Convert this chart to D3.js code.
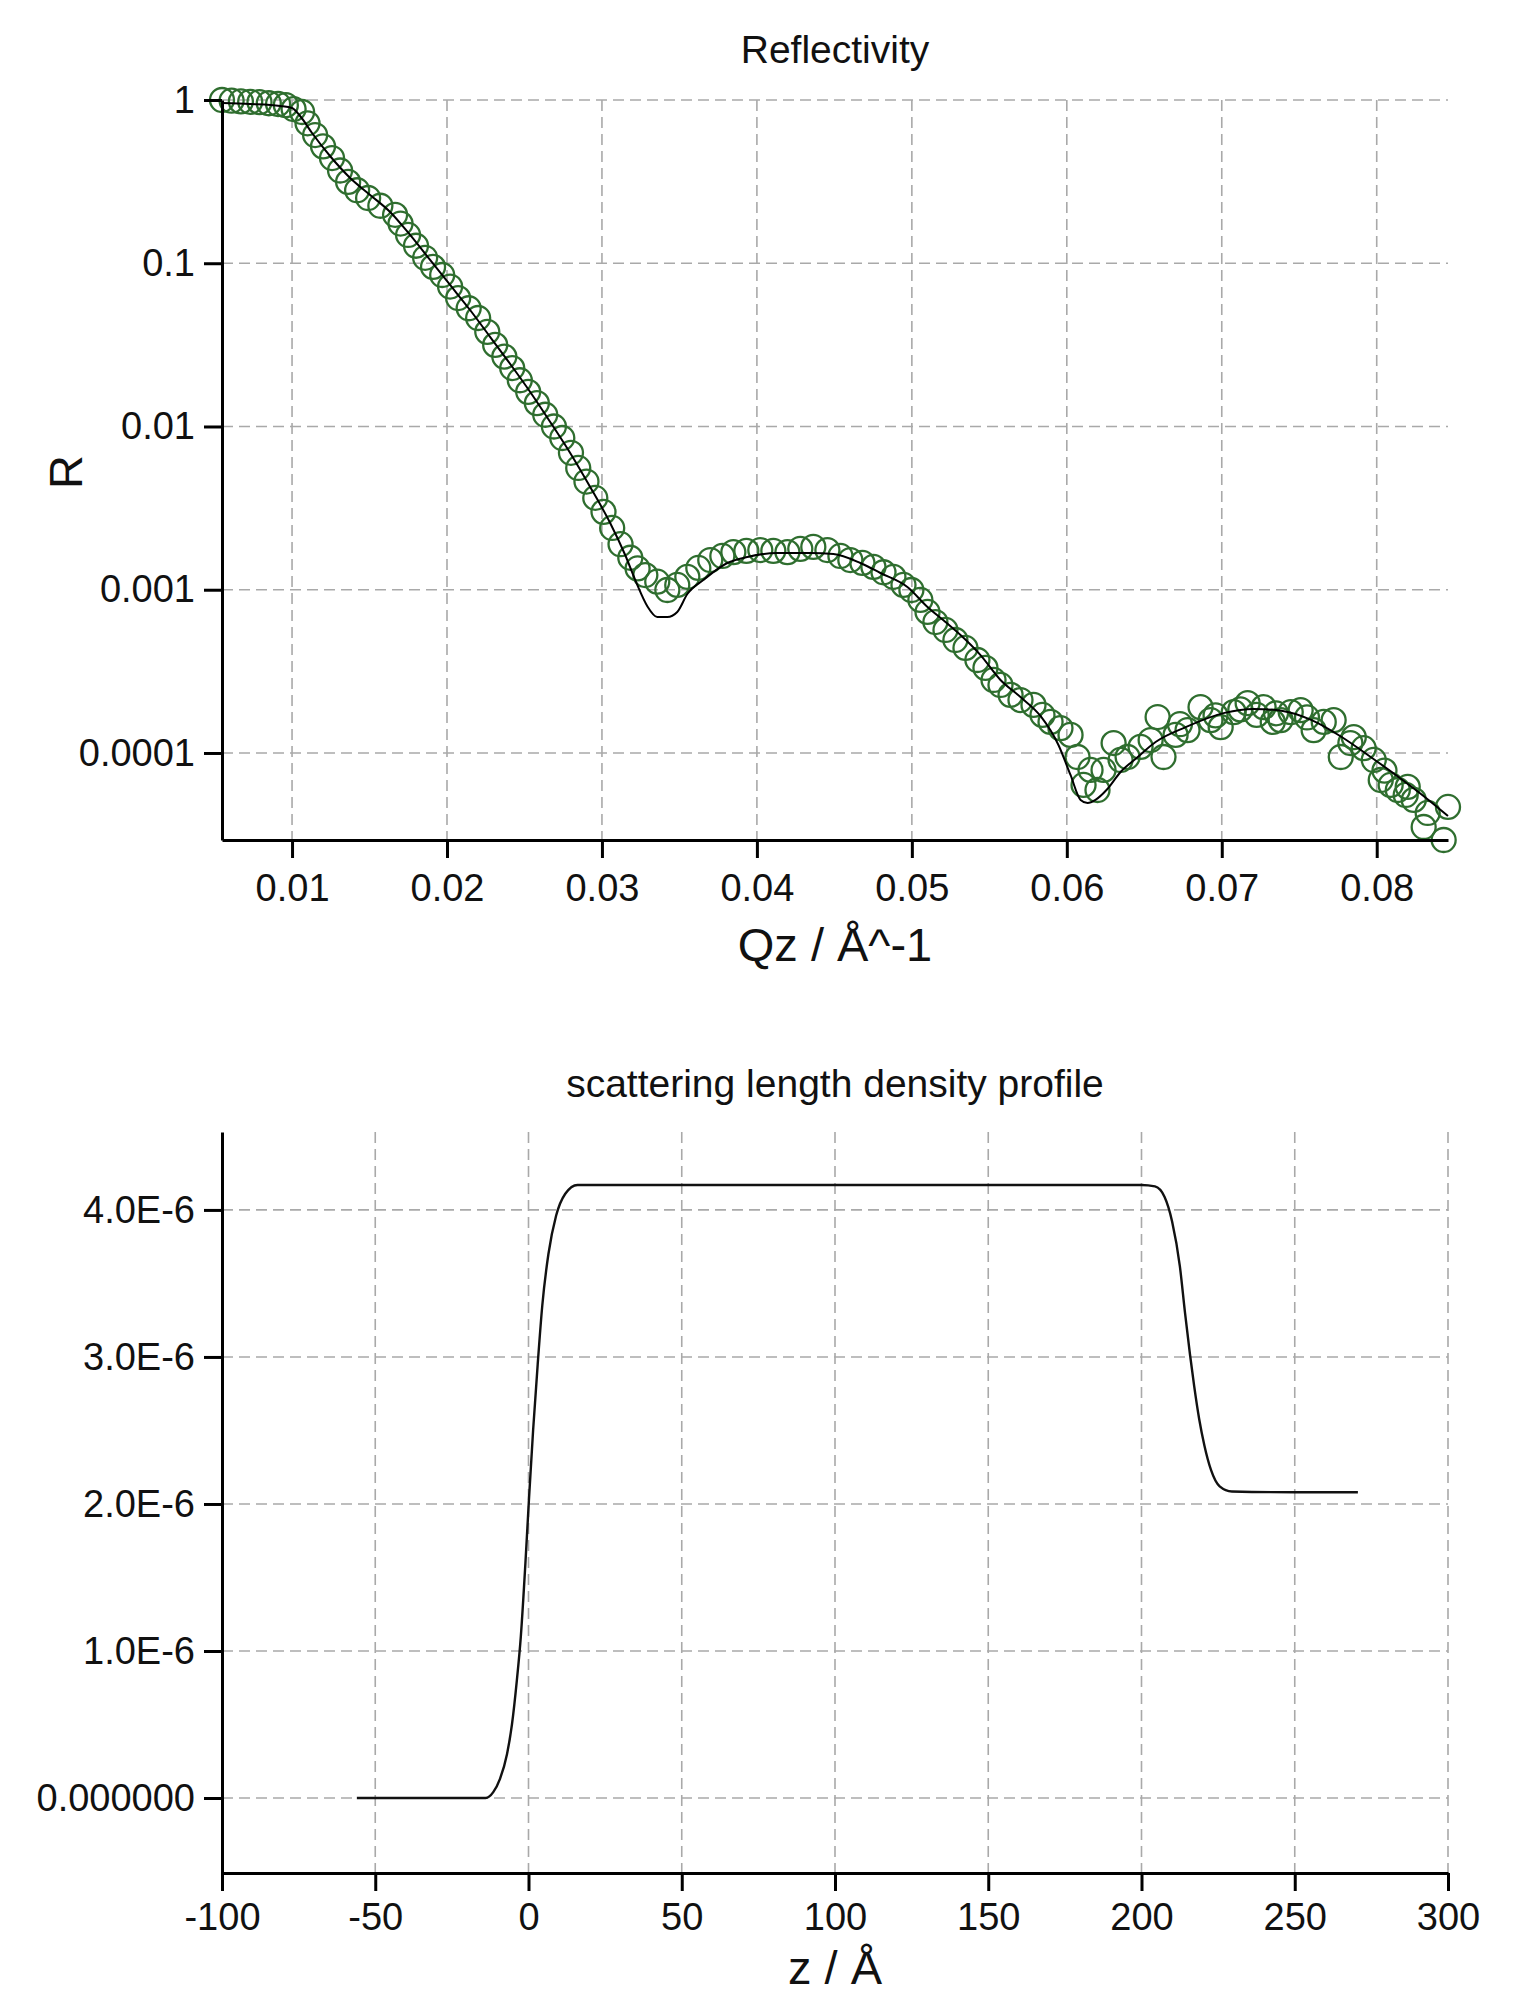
<!DOCTYPE html>
<html>
<head>
<meta charset="utf-8">
<script src="https://cdn.jsdelivr.net/npm/d3@7"></script>
<style>
  html, body { margin: 0; padding: 0; background: #fff; }
  svg { display: block; }
</style>
</head>
<body>
<svg id="chart" width="1531" height="1995"></svg>
<script>
// ---- Reflectivity: measured points ----
const qData = [
  0.00548, 0.0061, 0.0067, 0.0073, 0.0079, 0.0085, 0.0091, 0.0096, 0.0101,
  0.01065, 0.0110, 0.01149, 0.0120, 0.01258, 0.0131, 0.01362, 0.0142, 0.01491, 0.0157,
  0.01665, 0.0170, 0.01749, 0.0180, 0.01859, 0.0191, 0.01969, 0.0202, 0.02072, 0.0214,
  0.02201, 0.0226, 0.02311, 0.0237, 0.02421, 0.0247, 0.02524, 0.0258, 0.02634, 0.0269,
  0.02744, 0.0280, 0.02847, 0.0290, 0.02957, 0.0301, 0.03066, 0.0312, 0.03183, 0.0323,
  0.03280,
  0.03357, 0.03422, 0.03486, 0.03551, 0.03622, 0.03699, 0.03777, 0.03848, 0.03932, 0.04022,
  0.04106, 0.04197, 0.04280, 0.04364, 0.04455, 0.04539, 0.04603, 0.04681, 0.04752, 0.04817,
  0.04881, 0.04946, 0.04997, 0.05055, 0.05101, 0.05152, 0.05217, 0.05281, 0.05346, 0.05423,
  0.05475, 0.05527, 0.05572, 0.05637, 0.05701, 0.05785, 0.05843, 0.05895, 0.05959, 0.06024,
  0.06069, 0.06108, 0.06153, 0.06198, 0.06237, 0.06302, 0.06347, 0.06392, 0.06476, 0.06541,
  0.06586, 0.06624, 0.06702, 0.0673, 0.06779, 0.06863, 0.06928, 0.0696, 0.06993, 0.07077,
  0.0712, 0.07167, 0.07225, 0.07270, 0.07329, 0.0735, 0.07380, 0.07445, 0.07509, 0.0755,
  0.07593, 0.07658, 0.07722, 0.07768, 0.0783, 0.07852, 0.07916, 0.07981, 0.08026, 0.0805,
  0.08090, 0.08136, 0.08187, 0.0820, 0.08239, 0.08303, 0.08329, 0.08432, 0.0846
];
const rData = [
  1.0, 0.99, 0.98, 0.975, 0.97, 0.955, 0.945, 0.93, 0.88,
  0.844, 0.72, 0.610, 0.52, 0.441, 0.37, 0.315, 0.28, 0.251, 0.225,
  0.198, 0.175, 0.149, 0.128, 0.108, 0.095, 0.0847, 0.072, 0.0612, 0.053,
  0.0462, 0.038, 0.0316, 0.0268, 0.0228, 0.0192, 0.0163, 0.0139, 0.0118, 0.0100,
  0.0085, 0.0069, 0.00557, 0.0046, 0.00365, 0.0030, 0.00239, 0.0019, 0.00157, 0.00135,
  0.00123,
  0.00112, 0.000996, 0.00107, 0.00120, 0.00136, 0.00152, 0.00161, 0.00170, 0.00173, 0.00175,
  0.00173, 0.00170, 0.00178, 0.00183, 0.00175, 0.00161, 0.00152, 0.00146, 0.00138, 0.00128,
  0.00120, 0.00107, 0.000996, 0.000866, 0.000731, 0.000634, 0.000567, 0.000492, 0.000440, 0.000371,
  0.000332, 0.000280, 0.000261, 0.000227, 0.000211, 0.000197, 0.000171, 0.000155, 0.000142, 0.000129,
  0.0000945, 0.0000637, 0.0000787, 0.0000593, 0.0000787, 0.000115, 0.0000906, 0.0000945, 0.000109, 0.000120,
  0.000166, 0.0000945, 0.000129, 0.000150, 0.000138, 0.000191, 0.000159, 0.000170, 0.000144, 0.000178,
  0.000185, 0.000202, 0.000171, 0.000191, 0.000155, 0.000175, 0.000159, 0.000178, 0.000183, 0.000165,
  0.000138, 0.000155, 0.000159, 0.0000945, 0.000115, 0.000125, 0.000107, 0.0000906, 0.0000683, 0.000078,
  0.0000637, 0.0000593, 0.0000553, 0.000062, 0.0000516, 0.0000352, 0.0000429, 0.0000293, 0.0000467
];

// ---- Reflectivity: fitted model ----
const qFit = [
  0.00548, 0.00729, 0.00923, 0.0100, 0.01052, 0.01129, 0.01245, 0.01375, 0.01504, 0.01633,
  0.01762, 0.01891, 0.0202, 0.02149, 0.02279, 0.02408, 0.02537, 0.02666, 0.02795, 0.02924,
  0.03053, 0.0315, 0.03228, 0.03292, 0.03357, 0.03422, 0.03486, 0.03551, 0.03654, 0.03809,
  0.03938, 0.04132, 0.04345, 0.04494, 0.04668, 0.04797, 0.04971, 0.05101, 0.05217, 0.05314,
  0.05443, 0.05572, 0.05701, 0.0583, 0.05946, 0.06024, 0.06089, 0.06134, 0.06185, 0.06256,
  0.06347, 0.0645, 0.06573, 0.06767, 0.07018, 0.07206, 0.07393, 0.0758, 0.07774, 0.07961,
  0.08149, 0.0831, 0.0846
];
const rFit = [
  0.9585, 0.945, 0.919, 0.893, 0.798, 0.628, 0.454, 0.333, 0.262, 0.206,
  0.149, 0.1047, 0.0736, 0.0517, 0.0353, 0.02414, 0.01627, 0.01066, 0.00688, 0.00426,
  0.002564, 0.001632, 0.00107, 0.000795, 0.000681, 0.000681, 0.000731, 0.000941, 0.001147, 0.001458,
  0.001587, 0.00168, 0.00168, 0.001656, 0.001458, 0.001266, 0.001039, 0.000784, 0.000634, 0.000528,
  0.000398, 0.00028, 0.00022, 0.0001685, 0.0001119, 0.0000733, 0.0000516, 0.0000494, 0.0000516, 0.0000593,
  0.0000765, 0.0000932, 0.0001168, 0.000144, 0.000176, 0.000186, 0.000181, 0.000159, 0.0001253, 0.0000945,
  0.0000703, 0.0000538, 0.0000411
];

// ---- Scattering length density profile ----
const zProfile = [
  -56, -35, -14, -11.5, -9.3, -7, -5.4, -3.8, -2.5, -1, 0.2, 1.5, 3, 4.5, 6.5, 9, 12, 16,
  60, 120, 200, 204.4, 207.5, 210, 212.5, 214.2, 215.8, 217.2, 218.8, 220.5, 222.7, 225.5,
  229.5, 250, 270.6
];
const sldProfile = [
  0, 0, 0, 0.04e-6, 0.13e-6, 0.30e-6, 0.50e-6, 0.80e-6, 1.10e-6, 1.60e-6, 2.05e-6, 2.50e-6,
  2.95e-6, 3.35e-6, 3.70e-6, 3.96e-6, 4.11e-6, 4.17e-6,
  4.17e-6, 4.17e-6, 4.17e-6, 4.16e-6, 4.09e-6, 3.92e-6, 3.62e-6, 3.30e-6, 3.02e-6, 2.80e-6,
  2.58e-6, 2.40e-6, 2.23e-6, 2.12e-6, 2.085e-6, 2.08e-6, 2.08e-6
];

// ---- Tick values and labels ----
const qTicks = [0.01, 0.02, 0.03, 0.04, 0.05, 0.06, 0.07, 0.08];
const qTickLabels = ["0.01", "0.02", "0.03", "0.04", "0.05", "0.06", "0.07", "0.08"];
const rTicks = [1, 0.1, 0.01, 0.001, 0.0001];
const rTickLabels = ["1", "0.1", "0.01", "0.001", "0.0001"];
const zTicks = [-100, -50, 0, 50, 100, 150, 200, 250, 300];
const zTickLabels = ["-100", "-50", "0", "50", "100", "150", "200", "250", "300"];
const sldTicks = [0, 1e-6, 2e-6, 3e-6, 4e-6];
const sldTickLabels = ["0.000000", "1.0E-6", "2.0E-6", "3.0E-6", "4.0E-6"];

// ---- Layout ----
const FONT = "'Liberation Sans', Arial, Helvetica, sans-serif";
const plotLeft = 222, plotRight = 1448;
const refTop = 100, refBottom = 840;
const sldTop = 1132, sldBottom = 1873;
const centerX = (plotLeft + plotRight) / 2;

const svg = d3.select("#chart");
svg.append("rect").attr("width", 1531).attr("height", 1995).attr("fill", "#fff");

function drawGrid(g, xs, ys, xt, yt, yTop, yBot) {
  const grid = g.append("g").attr("class", "grid")
    .attr("stroke", "#a9a9a9").attr("stroke-width", 1.6)
    .attr("stroke-dasharray", "11,6").attr("fill", "none");
  grid.selectAll("line.v").data(xt).join("line").attr("class", "v")
    .attr("x1", d => xs(d)).attr("x2", d => xs(d))
    .attr("y1", yTop).attr("y2", yBot);
  grid.selectAll("line.h").data(yt).join("line").attr("class", "h")
    .attr("x1", plotLeft).attr("x2", plotRight)
    .attr("y1", d => ys(d)).attr("y2", d => ys(d));
}

function styleAxis(g, size) {
  g.attr("font-family", FONT).attr("font-size", size);
  g.selectAll("path.domain").attr("stroke", "#000").attr("stroke-width", 3);
  g.selectAll(".tick line").attr("stroke", "#000").attr("stroke-width", 3);
  g.selectAll(".tick text").attr("fill", "#111");
}

// ================= Reflectivity =================
const xR = d3.scaleLinear().domain(d3.extent(qData)).range([plotLeft, plotRight]);
const yR = d3.scaleLog().domain(d3.extent(rData)).range([refBottom, refTop]);

const gR = svg.append("g");
drawGrid(gR, xR, yR, qTicks, rTicks, refTop, refBottom);

gR.append("g").attr("fill", "none").attr("stroke", "#2f6e2f").attr("stroke-width", 2.3)
  .selectAll("circle").data(qData.map((q, i) => [q, rData[i]])).join("circle")
  .attr("cx", d => xR(d[0])).attr("cy", d => yR(d[1])).attr("r", 12);

const fitLine = d3.line().x(d => xR(d[0])).y(d => yR(d[1])).curve(d3.curveMonotoneX);
gR.append("path").datum(qFit.map((q, i) => [q, rFit[i]]))
  .attr("d", fitLine).attr("fill", "none").attr("stroke", "#000").attr("stroke-width", 2);

const axRx = gR.append("g").attr("transform", `translate(0,${refBottom})`)
  .call(d3.axisBottom(xR).tickValues(qTicks).tickFormat((d, i) => qTickLabels[i])
    .tickSize(18).tickSizeOuter(0).tickPadding(16));
styleAxis(axRx, 38);
const axRy = gR.append("g").attr("transform", `translate(${plotLeft},0)`)
  .call(d3.axisLeft(yR).tickValues(rTicks).tickFormat((d, i) => rTickLabels[i])
    .tickSize(18).tickSizeOuter(0).tickPadding(9));
styleAxis(axRy, 38);

gR.append("text").attr("x", centerX).attr("y", 63).attr("text-anchor", "middle")
  .attr("font-family", FONT).attr("font-size", 39).attr("fill", "#111").text("Reflectivity");
gR.append("text").attr("x", centerX).attr("y", 961).attr("text-anchor", "middle")
  .attr("font-family", FONT).attr("font-size", 47).attr("fill", "#111").text("Qz / Å^-1");
gR.append("text").attr("transform", "translate(82,472) rotate(-90)").attr("text-anchor", "middle")
  .attr("font-family", FONT).attr("font-size", 47).attr("fill", "#111").text("R");

// ================= SLD profile =================
const xS = d3.scaleLinear().domain([-100, 300]).range([plotLeft, plotRight]);
const yS = d3.scaleLinear().domain([-0.51e-6, 4.53e-6]).range([sldBottom, sldTop]);

const gS = svg.append("g");
drawGrid(gS, xS, yS, zTicks.slice(1), sldTicks, sldTop, sldBottom);

const profileLine = d3.line().x(d => xS(d[0])).y(d => yS(d[1])).curve(d3.curveMonotoneX);
gS.append("path").datum(zProfile.map((z, i) => [z, sldProfile[i]]))
  .attr("d", profileLine).attr("fill", "none").attr("stroke", "#111").attr("stroke-width", 2.4);

const axSx = gS.append("g").attr("transform", `translate(0,${sldBottom})`)
  .call(d3.axisBottom(xS).tickValues(zTicks).tickFormat((d, i) => zTickLabels[i])
    .tickSize(18).tickSizeOuter(0).tickPadding(12));
styleAxis(axSx, 38);
const axSy = gS.append("g").attr("transform", `translate(${plotLeft},0)`)
  .call(d3.axisLeft(yS).tickValues(sldTicks).tickFormat((d, i) => sldTickLabels[i])
    .tickSize(18).tickSizeOuter(0).tickPadding(9));
styleAxis(axSy, 38);

gS.append("text").attr("x", centerX).attr("y", 1097).attr("text-anchor", "middle")
  .attr("font-family", FONT).attr("font-size", 39).attr("fill", "#111")
  .text("scattering length density profile");
gS.append("text").attr("x", centerX).attr("y", 1984).attr("text-anchor", "middle")
  .attr("font-family", FONT).attr("font-size", 47).attr("fill", "#111").text("z / Å");
</script>
</body>
</html>
